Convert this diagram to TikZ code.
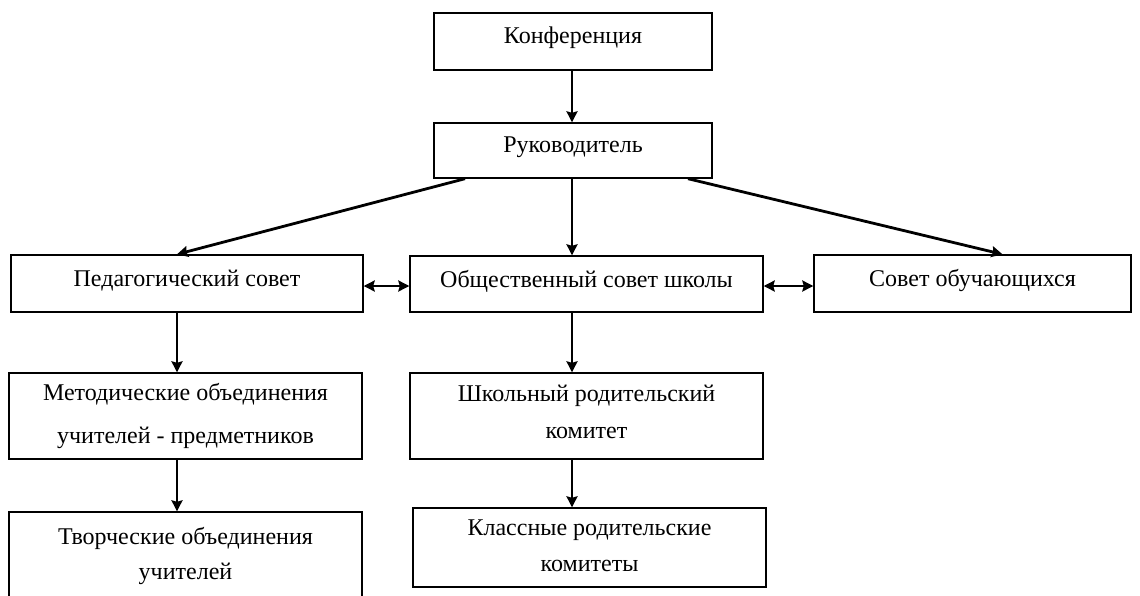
\documentclass[tikz,border=0pt]{standalone}
\usepackage{fontspec}
\setmainfont{Liberation Serif}
\usetikzlibrary{arrows.meta,calc}
\begin{document}
\begin{tikzpicture}[x=1pt,y=-1pt,
  box/.style={draw=black, line width=1.4pt, rectangle, inner sep=0pt},
  lbl/.style={font=\fontsize{24}{43}\selectfont, align=center, inner sep=0pt},
  conn/.style={line width=2.8pt, -{Stealth[length=11pt,width=11pt,inset=1.5pt]}},
  biconn/.style={line width=2.8pt, {Stealth[length=11pt,width=11pt,inset=1.5pt]}-{Stealth[length=11pt,width=11pt,inset=1.5pt]}}]
\useasboundingbox (0,0) rectangle (1140,595);
\begin{scope}
\clip (0,0) rectangle (1140,595);
\node[box, minimum width=278pt, minimum height=57pt] (konf) at (573,41.5) {};
\node[box, minimum width=278pt, minimum height=55pt] (ruk) at (573,150.5) {};
\node[box, minimum width=352pt, minimum height=57pt] (ped) at (187,283.5) {};
\node[box, minimum width=353pt, minimum height=56pt] (obsch) at (586.5,284) {};
\node[box, minimum width=317pt, minimum height=57pt] (sovob) at (972.5,283.5) {};
\node[box, minimum width=353pt, minimum height=86pt] (met) at (185.5,416) {};
\node[box, minimum width=353pt, minimum height=88pt] (tvor) at (185.5,556) {};
\node[box, minimum width=353pt, minimum height=86pt] (shk) at (586.5,416) {};
\node[box, minimum width=353pt, minimum height=79pt] (klass) at (589.5,547.5) {};
\end{scope}
\node[lbl] (tkonf) at ([yshift=4pt]konf.center) {Конференция};
\node[lbl] (truk) at ([yshift=3pt]ruk.center) {Руководитель};
\node[lbl] (tped) at ([yshift=3pt]ped.center) {Педагогический совет};
\node[lbl] (tobsch) at ([yshift=3pt]obsch.center) {Общественный совет школы};
\node[lbl] (tsovob) at ([yshift=3pt]sovob.center) {Совет обучающихся};
\node[lbl] (tmet) at (185.5,415.5) {Методические объединения\\учителей - предметников};
\node[lbl, font=\fontsize{24}{35}\selectfont] (ttvor) at (185.5,555.5) {Творческие объединения\\учителей};
\node[lbl, font=\fontsize{24}{37}\selectfont] (tshk) at (586.5,411.5) {Школьный родительский\\комитет};
\node[lbl, font=\fontsize{24}{36}\selectfont] (tklass) at (589.5,546) {Классные родительские\\комитеты};
\draw[conn] ([xshift=-1pt]konf.south) -- ([xshift=-1pt]ruk.north);
\draw[conn] ([xshift=-108pt]ruk.south) -- ([xshift=-10pt]ped.north);
\draw[conn] ([xshift=-1pt]ruk.south) -- ([xshift=-14.5pt]obsch.north);
\draw[conn] ([xshift=115pt]ruk.south) -- ([xshift=30pt]sovob.north);
\draw[biconn] ([yshift=-2.5pt]ped.east) -- ([yshift=-2pt]obsch.west);
\draw[biconn] ([yshift=-2pt]obsch.east) -- ([yshift=-2.5pt]sovob.west);
\draw[conn] ([xshift=-10pt]ped.south) -- ([xshift=-8.5pt]met.north);
\draw[conn] ([xshift=-8.5pt]met.south) -- ([xshift=-8.5pt]tvor.north);
\draw[conn] ([xshift=-14.5pt]obsch.south) -- ([xshift=-14.5pt]shk.north);
\draw[conn] ([xshift=-14.5pt]shk.south) -- ([xshift=-17.5pt]klass.north);
\end{tikzpicture}
\end{document}
